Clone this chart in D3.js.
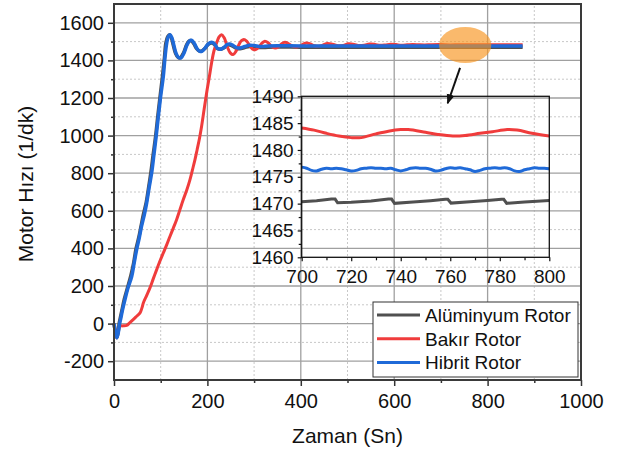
<!DOCTYPE html>
<html>
<head>
<meta charset="utf-8">
<script src="https://cdn.jsdelivr.net/npm/d3@7"></script>
<style>
  body { margin: 0; background: #fff; }
  svg text { font-family: "Liberation Sans", Arial, sans-serif; fill: #111; }
</style>
</head>
<body>
<div id="chart"></div>
<script>
// ---- data ----
const seriesNames = ["Alüminyum Rotor", "Bakır Rotor", "Hibrit Rotor"];
const seriesColors = ["#505050", "#f03c3c", "#1f6ad8"];

// main plot, [time s, speed 1/dk]
const aluminyum = [[0,0],[3,-45],[6,-75],[9,-45],[11,0],[13,25],[17,72],[22,130],[29,192],[36,255],[42,322],[47,396],[53,458],[58,520],[63,582],[69,645],[74,722],[79,805],[84,902],[89,995],[94,1108],[99,1215],[104,1320],[108,1415],[111,1492],[115,1526],[119,1536],[123,1519],[127,1480],[132,1436],[137,1416],[142,1414],[149,1441],[155,1480],[160,1501],[165,1505],[171,1488],[177,1462],[183,1449],[188,1450],[195,1465],[202,1486],[209,1493],[215,1485],[222,1462],[230,1460],[237,1470],[243,1481],[248,1482],[256,1473],[263,1463],[270,1462],[280,1468],[290,1474],[300,1472],[315,1468],[330,1470],[350,1471],[400,1470.4],[500,1470.4],[600,1470.4],[700,1470.4],[800,1470.4],[875,1470.4]];
const bakir = [[0,0],[3,-45],[6,-75],[9,-40],[12.8,-14],[20,-12],[27,-10],[34,5],[41,21],[48,38],[55.7,57],[60,85],[62.8,110],[70,150],[77,190],[84,238],[91.4,287],[98,330],[105.6,376],[113,420],[120,465],[127,508],[134,553],[141,605],[148.4,660],[156,712],[162.7,766],[168,818],[173.4,872],[178,925],[183,985],[187.6,1050],[193,1140],[198.3,1227],[204,1310],[209,1387],[214,1450],[219.8,1493],[225,1525],[230.4,1537],[236,1520],[243,1470],[249,1440],[255,1431],[261,1448],[268,1486],[273,1505],[278,1511],[284,1502],[291,1478],[297,1460],[302,1457],[309,1468],[316,1490],[323,1502],[330,1494],[337,1475],[345,1466],[352,1472],[359,1488],[366,1496],[373,1490],[382,1476],[391,1471],[400,1478],[406,1488],[412,1493],[420,1488],[428,1479],[434,1475],[446,1480],[457,1490],[468,1486],[480,1478],[491,1480],[502,1488],[514,1485],[525,1479],[536,1481],[547,1487],[559,1485],[570,1480],[581,1482],[592,1486],[604,1484],[615,1481],[628,1483],[640,1485],[653,1483],[665,1482],[680,1483.5],[700,1484],[720,1482.3],[740,1483.8],[760,1482.6],[780,1483.6],[800,1482.6],[830,1483.4],[875,1483.2]];
const hibrit = [[0,0],[3,-45],[6,-75],[9,-50],[12,0],[14,21],[18,70],[23.5,128],[30,190],[38,252],[43,320],[48.5,394],[54,455],[59,518],[65,580],[70,642],[75,720],[80.7,802],[85.6,900],[90,990],[95,1103],[100,1210],[105.6,1315],[109,1410],[112.8,1490],[116,1525],[120,1537],[124,1520],[128,1482],[133,1437],[138,1416],[143.5,1413],[150,1440],[156,1480],[161,1502],[166,1507],[172,1490],[178,1462],[184,1448],[188,1448],[195,1465],[202,1488],[209,1496],[215,1488],[222,1463],[230,1461],[237,1472],[243,1485],[248,1487],[256,1478],[263,1467],[270,1466],[280,1474],[290,1481],[300,1479],[315,1474],[330,1477],[350,1478],[400,1476.5],[500,1476.5],[600,1476.5],[700,1476.6],[800,1476.5],[875,1476.5]];

// inset 700..800 s
const insetAluminyum = [[700,1470.35],[706,1470.55],[712,1470.85],[713.5,1470.85],[714.5,1470.15],[720,1470.25],[728,1470.5],[735,1470.85],[736.3,1470.85],[737.5,1470.05],[745,1470.3],[752,1470.55],[758,1470.8],[759,1470.8],[760.3,1470.1],[768,1470.35],[775,1470.6],[780.7,1470.8],[781.6,1470.8],[782.8,1470.05],[790,1470.3],[800,1470.6]];
const insetBakir = [[700,1484.1],[705,1483.7],[710,1483.1],[715,1482.6],[720,1482.3],[724,1482.3],[730,1483.0],[735,1483.5],[740,1483.8],[743,1483.8],[750,1483.3],[755,1482.9],[761,1482.6],[766,1482.7],[772,1483.1],[777,1483.4],[783,1483.8],[787,1483.7],[793,1483.1],[800,1482.6]];
const insetHibrit = [[700,1476.8],[702,1476.6],[704,1476.2],[706,1476.1],[708,1476.4],[710,1476.6],[712,1476.5],[714,1476.6],[716,1476.5],[718,1476.3],[720,1476.1],[722,1476.2],[724,1476.5],[726,1476.6],[728,1476.7],[730,1476.6],[732,1476.6],[734,1476.5],[736,1476.6],[738,1476.3],[740,1476.1],[742,1476.3],[744,1476.6],[746,1476.7],[748,1476.6],[750,1476.6],[752,1476.4],[754,1476.1],[756,1476.2],[758,1476.5],[760,1476.7],[762,1476.6],[764,1476.7],[766,1476.5],[768,1476.3],[770,1476.0],[772,1476.2],[774,1476.5],[776,1476.6],[778,1476.7],[780,1476.6],[782,1476.7],[784,1476.5],[786,1476.1],[788,1476.0],[790,1476.3],[792,1476.5],[794,1476.7],[796,1476.6],[798,1476.6],[800,1476.5]];

const xTicks = [0, 200, 400, 600, 800, 1000];
const yTicks = [-200, 0, 200, 400, 600, 800, 1000, 1200, 1400, 1600];
const insetXTicks = [700, 720, 740, 760, 780, 800];
const insetYTicks = [1460, 1465, 1470, 1475, 1480, 1485, 1490];

// ---- layout ----
const W = 630, H = 457;
const FONT = '"Liberation Sans", Arial, sans-serif';
const svg = d3.select("#chart").append("svg").attr("width", W).attr("height", H);

const x = d3.scaleLinear().domain([0, 1000]).range([114, 581]);
const y = d3.scaleLinear().domain([-300, 1700]).range([380, 4]);

const xi = d3.scaleLinear().domain([700, 800]).range([301.7, 549.3]);
const yi = d3.scaleLinear().domain([1460, 1490]).range([257.3, 96.3]);

// grid
const grid = svg.append("g");
d3.range(100, 1000, 200).forEach(v => grid.append("line")
  .attr("x1", x(v)).attr("x2", x(v)).attr("y1", y(-300)).attr("y2", y(1700))
  .attr("stroke", "#c8c8c8").attr("stroke-dasharray", "2,2"));
d3.range(-100, 1700, 200).forEach(v => grid.append("line")
  .attr("x1", x(0)).attr("x2", x(1000)).attr("y1", y(v)).attr("y2", y(v))
  .attr("stroke", "#c8c8c8").attr("stroke-dasharray", "2,2"));
xTicks.slice(1, -1).forEach(v => grid.append("line")
  .attr("x1", x(v)).attr("x2", x(v)).attr("y1", y(-300)).attr("y2", y(1700))
  .attr("stroke", "#a0a0a0").attr("stroke-width", 1.3));
yTicks.forEach(v => grid.append("line")
  .attr("x1", x(0)).attr("x2", x(1000)).attr("y1", y(v)).attr("y2", y(v))
  .attr("stroke", "#a0a0a0").attr("stroke-width", 1.3));

// main lines
const line = d3.line().x(d => x(d[0])).y(d => y(d[1])).curve(d3.curveCatmullRom);
[aluminyum, bakir, hibrit].forEach((s, i) => svg.append("path")
  .datum(s).attr("d", line).attr("fill", "none")
  .attr("stroke", seriesColors[i]).attr("stroke-width", i === 1 ? 3 : 3.5)
  .attr("stroke-linejoin", "round"));

// main axes (plain hyphen for negatives, like the original)
const fmt = v => String(v);
const axisG = svg.append("g");
axisG.append("g").attr("transform", `translate(0,${y(-300)})`)
  .call(d3.axisBottom(x).tickValues(xTicks).tickFormat(fmt).tickSize(6).tickPadding(8));
axisG.append("g").attr("transform", `translate(${x(0)},0)`)
  .call(d3.axisLeft(y).tickValues(yTicks).tickFormat(fmt).tickSize(6).tickPadding(4));
axisG.append("g").attr("transform", `translate(0,${y(-300)})`)
  .call(d3.axisBottom(x).tickValues(d3.range(100, 1000, 200)).tickSize(3).tickFormat(""));
axisG.append("g").attr("transform", `translate(${x(0)},0)`)
  .call(d3.axisLeft(y).tickValues(d3.range(-100, 1700, 200)).tickSize(3).tickFormat(""));
axisG.selectAll(".domain").remove();
axisG.selectAll(".tick line").attr("stroke", "#333").attr("stroke-width", 1.5);
axisG.selectAll("text").attr("font-size", 20).attr("fill", "#111").attr("font-family", FONT);
svg.append("rect").attr("x", x(0)).attr("y", y(1700))
  .attr("width", x(1000) - x(0)).attr("height", y(-300) - y(1700))
  .attr("fill", "none").attr("stroke", "#3a3a3a").attr("stroke-width", 2);

// axis titles
svg.append("text").attr("x", (x(0) + x(1000)) / 2).attr("y", 443)
  .attr("text-anchor", "middle").attr("font-size", 21).text("Zaman (Sn)");
svg.append("text").attr("transform", "translate(33,184) rotate(-90)")
  .attr("text-anchor", "middle").attr("font-size", 21).text("Motor Hızı (1/dk)");

// ---- inset ----
const inset = svg.append("g");
const iline = d3.line().x(d => xi(d[0])).y(d => yi(d[1])).curve(d3.curveCatmullRom);
const ilineLin = d3.line().x(d => xi(d[0])).y(d => yi(d[1]));
inset.append("path").datum(insetAluminyum).attr("d", ilineLin).attr("fill", "none")
  .attr("stroke", seriesColors[0]).attr("stroke-width", 3);
inset.append("path").datum(insetBakir).attr("d", iline).attr("fill", "none")
  .attr("stroke", seriesColors[1]).attr("stroke-width", 3);
inset.append("path").datum(insetHibrit).attr("d", iline).attr("fill", "none")
  .attr("stroke", seriesColors[2]).attr("stroke-width", 3);

const iaxis = inset.append("g");
iaxis.append("g").attr("transform", `translate(0,${yi(1460)})`)
  .call(d3.axisBottom(xi).tickValues(insetXTicks).tickFormat(fmt).tickSize(4).tickPadding(8));
iaxis.append("g").attr("transform", `translate(${xi(700)},0)`)
  .call(d3.axisLeft(yi).tickValues(insetYTicks).tickFormat(fmt).tickSize(4).tickPadding(4));
iaxis.append("g").attr("transform", `translate(0,${yi(1460)})`)
  .call(d3.axisBottom(xi).tickValues(d3.range(710, 800, 20)).tickSize(3).tickFormat(""));
iaxis.append("g").attr("transform", `translate(${xi(700)},0)`)
  .call(d3.axisLeft(yi).tickValues(d3.range(1462.5, 1490, 5)).tickSize(3).tickFormat(""));
iaxis.selectAll(".domain").remove();
iaxis.selectAll(".tick line").attr("stroke", "#111").attr("stroke-width", 1.2);
iaxis.selectAll("text").attr("font-size", 19).attr("fill", "#111").attr("font-family", FONT);
inset.append("rect").attr("x", xi(700)).attr("y", yi(1490))
  .attr("width", xi(800) - xi(700)).attr("height", yi(1460) - yi(1490))
  .attr("fill", "none").attr("stroke", "#111").attr("stroke-width", 1.3);

// highlight ellipse and arrow
const cx = 752, cy = 1482;
svg.append("ellipse").attr("cx", x(cx)).attr("cy", y(cy))
  .attr("rx", x(cx + 56) - x(cx)).attr("ry", y(cy) - y(cy + 96))
  .attr("fill", "#f7941d").attr("opacity", 0.65);
svg.append("defs").append("marker").attr("id", "arrow")
  .attr("viewBox", "0 0 10 10").attr("refX", 9).attr("refY", 5)
  .attr("markerWidth", 5).attr("markerHeight", 5).attr("orient", "auto")
  .append("path").attr("d", "M0,1 L10,5 L0,9 Z").attr("fill", "#111");
svg.append("line").attr("x1", x(741)).attr("y1", y(1360))
  .attr("x2", x(714.5)).attr("y2", y(1172))
  .attr("stroke", "#111").attr("stroke-width", 2).attr("marker-end", "url(#arrow)");

// legend
const lg = svg.append("g").attr("transform", "translate(373,302)");
lg.append("rect").attr("width", 205).attr("height", 75)
  .attr("fill", "#fff").attr("stroke", "#333").attr("stroke-width", 1);
seriesNames.forEach((n, i) => {
  const yy = 13 + i * 23.7;
  lg.append("line").attr("x1", 4).attr("x2", 47).attr("y1", yy).attr("y2", yy)
    .attr("stroke", seriesColors[i]).attr("stroke-width", 3);
  lg.append("text").attr("x", 52).attr("y", yy + 7).attr("font-size", 19).text(n);
});
</script>
</body>
</html>
